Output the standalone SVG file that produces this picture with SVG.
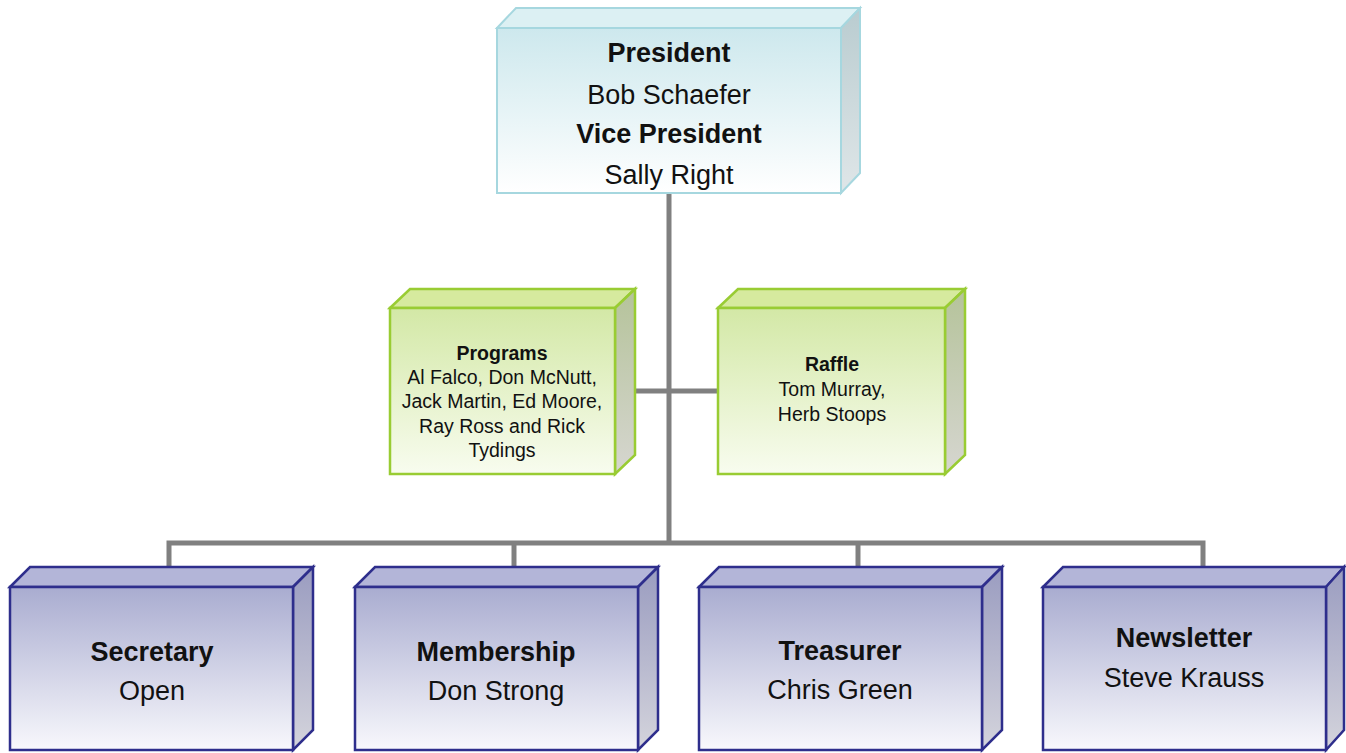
<svg xmlns="http://www.w3.org/2000/svg" width="1346" height="753" viewBox="0 0 1346 753">
<style>
.conn{stroke:#808080;stroke-width:5;fill:none}
.t{font-family:"Liberation Sans",Arial,sans-serif;fill:#111;text-anchor:middle}
.b{font-weight:bold}
.big{font-size:27px}
.small{font-size:19.5px}
.cyan .front{fill:url(#gCyan);stroke:#a6d7df;stroke-width:2}
.cyan .top{fill:#dcf0f3;stroke:#a6d7df;stroke-width:2}
.cyan .side{fill:url(#gCyanSide);stroke:#a6d7df;stroke-width:2}
.green .front{fill:url(#gGreen);stroke:#99cc33;stroke-width:2.5}
.green .top{fill:#d6ea9e;stroke:#99cc33;stroke-width:2.5}
.green .side{fill:url(#gGreenSide);stroke:#99cc33;stroke-width:2.5}
.blue .front{fill:url(#gBlue);stroke:#2e2e8c;stroke-width:2.5}
.blue .top{fill:#b3b5d8;stroke:#2e2e8c;stroke-width:2.5}
.blue .side{fill:url(#gBlueSide);stroke:#2e2e8c;stroke-width:2.5}
</style>
<defs>
<linearGradient id="gCyan" x1="0" y1="0" x2="0" y2="1"><stop offset="0" stop-color="#cde8ed"/><stop offset="1" stop-color="#ffffff"/></linearGradient>
<linearGradient id="gCyanSide" x1="0" y1="0" x2="0" y2="1"><stop offset="0" stop-color="#b9ccd0"/><stop offset="1" stop-color="#dfe6e8"/></linearGradient>
<linearGradient id="gGreen" x1="0" y1="0" x2="0" y2="1"><stop offset="0" stop-color="#d3e8a6"/><stop offset="1" stop-color="#f8fcef"/></linearGradient>
<linearGradient id="gGreenSide" x1="0" y1="0" x2="0" y2="1"><stop offset="0" stop-color="#b5c39a"/><stop offset="1" stop-color="#d6d6d0"/></linearGradient>
<linearGradient id="gBlue" x1="0" y1="0" x2="0" y2="1"><stop offset="0" stop-color="#a9acd0"/><stop offset="1" stop-color="#f8f8fc"/></linearGradient>
<linearGradient id="gBlueSide" x1="0" y1="0" x2="0" y2="1"><stop offset="0" stop-color="#9a9cc0"/><stop offset="1" stop-color="#d4d4dc"/></linearGradient>
</defs>
<rect width="1346" height="753" fill="#ffffff"/>
<g id="connectors">
<path class="conn" d="M669 193 V543"/>
<path class="conn" d="M169 567 V543 H1203 V567"/>
<path class="conn" d="M514 543 V567"/>
<path class="conn" d="M858 543 V567"/>
<path class="conn" d="M612 391 H718"/>
</g>
<g id="president" class="cyan">
<polygon class="top" points="497,28 516,8 860,8 841,28"/>
<polygon class="side" points="841,28 860,8 860,173 841,193"/>
<rect class="front" x="497" y="28" width="344" height="165"/>
<text class="t b big" x="669" y="62">President</text>
<text class="t big" x="669" y="104">Bob Schaefer</text>
<text class="t b big" x="669" y="143">Vice President</text>
<text class="t big" x="669" y="184">Sally Right</text>
</g>
<g id="programs" class="green">
<polygon class="top" points="390,308 410,289 635,289 615,308"/>
<polygon class="side" points="615,308 635,289 635,455 615,474"/>
<rect class="front" x="390" y="308" width="225" height="166"/>
<text class="t b small" x="502" y="360">Programs</text>
<text class="t small" x="502" y="384">Al Falco, Don McNutt,</text>
<text class="t small" x="502" y="408">Jack Martin, Ed Moore,</text>
<text class="t small" x="502" y="433">Ray Ross and Rick</text>
<text class="t small" x="502" y="457">Tydings</text>
</g>
<g id="raffle" class="green">
<polygon class="top" points="718,308 738,289 965,289 945,308"/>
<polygon class="side" points="945,308 965,289 965,455 945,474"/>
<rect class="front" x="718" y="308" width="227" height="166"/>
<text class="t b small" x="832" y="371">Raffle</text>
<text class="t small" x="832" y="396">Tom Murray,</text>
<text class="t small" x="832" y="421">Herb Stoops</text>
</g>
<g id="secretary" class="blue">
<polygon class="top" points="10,587 30,567 313,567 293,587"/>
<polygon class="side" points="293,587 313,567 313,730 293,750"/>
<rect class="front" x="10" y="587" width="283" height="163"/>
<text class="t b big" x="152" y="661">Secretary</text>
<text class="t big" x="152" y="700">Open</text>
</g>
<g id="membership" class="blue">
<polygon class="top" points="355,587 375,567 658,567 638,587"/>
<polygon class="side" points="638,587 658,567 658,730 638,750"/>
<rect class="front" x="355" y="587" width="283" height="163"/>
<text class="t b big" x="496" y="661">Membership</text>
<text class="t big" x="496" y="700">Don Strong</text>
</g>
<g id="treasurer" class="blue">
<polygon class="top" points="699,587 719,567 1002,567 982,587"/>
<polygon class="side" points="982,587 1002,567 1002,730 982,750"/>
<rect class="front" x="699" y="587" width="283" height="163"/>
<text class="t b big" x="840" y="660">Treasurer</text>
<text class="t big" x="840" y="699">Chris Green</text>
</g>
<g id="newsletter" class="blue">
<polygon class="top" points="1043,587 1063,567 1344,567 1326,587"/>
<polygon class="side" points="1326,587 1344,567 1344,730 1326,750"/>
<rect class="front" x="1043" y="587" width="283" height="163"/>
<text class="t b big" x="1184" y="647">Newsletter</text>
<text class="t big" x="1184" y="687">Steve Krauss</text>
</g>
</svg>
